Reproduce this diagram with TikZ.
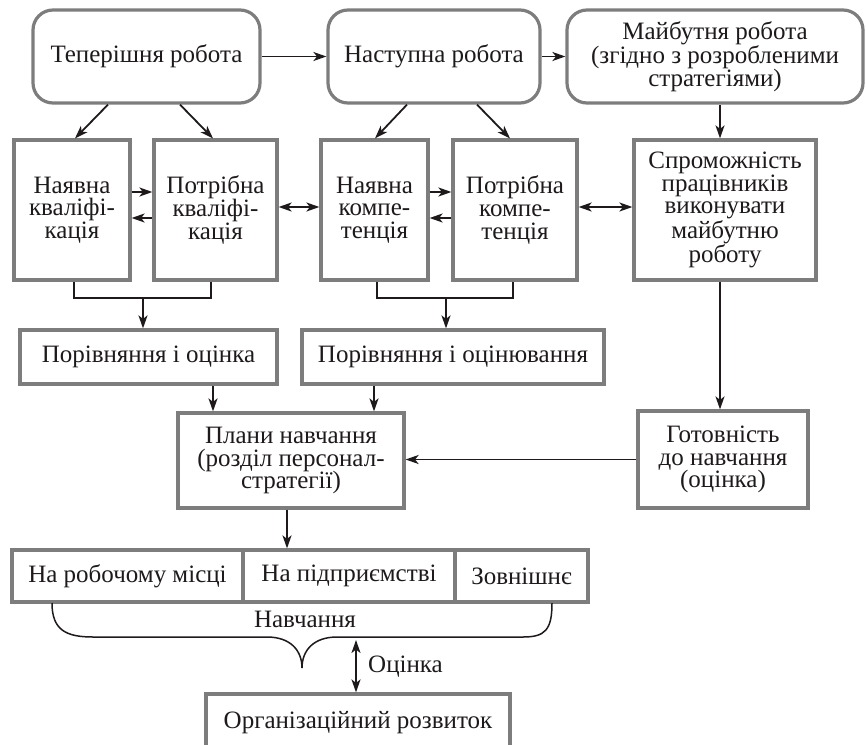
\documentclass[tikz,border=0pt]{standalone}
\usepackage{fontspec}
\setmainfont{Liberation Serif}
\usetikzlibrary{arrows.meta}
\definecolor{boxgray}{RGB}{125,125,125}
\definecolor{ink}{RGB}{30,26,27}
\newcommand{\fsz}{\fontsize{25pt}{22.7pt}\selectfont}
\tikzset{
  box/.style={draw=boxgray, line width=3.2pt, fill=white, inner sep=0pt, align=center, font=\fsz, text=ink},
  rbox/.style={box, rounded corners=20pt},
  tip/.tip={Stealth[length=13pt,width=9pt,inset=3.5pt]},
  ln/.style={draw=ink, line width=1.8pt},
  arr/.style={ln, -tip},
  darr/.style={ln, tip-tip},
  lbl/.style={font=\fsz, text=ink, inner sep=0pt}
}
\begin{document}
\begin{tikzpicture}[x=1pt,y=-1pt]
\useasboundingbox (0,0) rectangle (866,744);
\clip (0,0) rectangle (866,744);
% top row
\node[rbox, minimum width=227pt, minimum height=93pt] (tw) at (146.5,56.5) {Теперішня робота};
\node[rbox, minimum width=212pt, minimum height=93pt] (nr) at (434,56.5) {Наступна робота};
\node[rbox, minimum width=296pt, minimum height=93pt] (mr) at (715,56.5) {Майбутня робота\\(згідно з розробленими\\стратегіями)};
% second row
\node[box, minimum width=116pt, minimum height=140pt] (nk) at (72,210) {Наявна\\кваліфі-\\кація};
\node[box, minimum width=123pt, minimum height=140pt] (pk) at (215.5,210) {Потрібна\\кваліфі-\\кація};
\node[box, minimum width=107pt, minimum height=140pt] (nc) at (374.5,210) {Наявна\\компе-\\тенція};
\node[box, minimum width=124pt, minimum height=140pt] (pc) at (515,210) {Потрібна\\компе-\\тенція};
\node[box, minimum width=182pt, minimum height=140pt] (sp) at (725,210) {Спроможність\\працівників\\виконувати\\майбутню\\роботу};
% comparison row
\node[box, minimum width=257pt, minimum height=54pt] (po1) at (148.5,357) {Порівняння і оцінка};
\node[box, minimum width=302pt, minimum height=54pt] (po2) at (453,357) {Порівняння і оцінювання};
% plans and readiness
\node[box, minimum width=226pt, minimum height=95pt] (plan) at (291,460.5) {Плани навчання\\(розділ персонал-\\стратегії)};
\node[box, minimum width=170pt, minimum height=97pt] (got) at (723,459.5) {Готовність\\до навчання\\(оцінка)};
% training row
\node[box, minimum width=231pt, minimum height=52pt] (b1) at (127.5,576) {На робочому місці};
\node[box, minimum width=212pt, minimum height=52pt] (b2) at (349,576) {На підприємстві};
\node[box, minimum width=133pt, minimum height=52pt] (b3) at (521.5,576) {Зовнішнє};
% organisational development
\node[box, minimum width=304pt, minimum height=58pt] (org) at (358,723) {Організаційний розвиток};

% top row connectors
\draw[arr] (tw.east) -- (nr.west);
\draw[arr] (nr.east) -- (mr.west);
\draw[arr] ([xshift=-38.5pt]tw.south) -- ([xshift=3pt]nk.north);
\draw[arr] ([xshift=33.5pt]tw.south) -- ([xshift=-2.5pt]pk.north);
\draw[arr] ([xshift=-27pt]nr.south) -- ([xshift=0.5pt]nc.north);
\draw[arr] ([xshift=43pt]nr.south) -- ([xshift=-5pt]pc.north);
\draw[arr] ([xshift=5pt]mr.south) -- ([xshift=-5pt]sp.north);
% second row horizontal
\draw[arr] ([yshift=18pt]nk.east) -- ([yshift=18pt]pk.west);
\draw[arr] ([yshift=-8pt]pk.west) -- ([yshift=-8pt]nk.east);
\draw[arr] ([yshift=18pt]nc.east) -- ([yshift=18pt]pc.west);
\draw[arr] ([yshift=-8pt]pc.west) -- ([yshift=-8pt]nc.east);
\draw[darr] ([yshift=3pt]pk.east) -- ([yshift=3pt]nc.west);
\draw[darr] ([yshift=3pt]pc.east) -- ([yshift=3pt]sp.west);
% brackets
\coordinate (j1) at (143,298);
\coordinate (j2) at (446,298);
\draw[ln] ([xshift=2pt]nk.south) |- (j1) -| ([xshift=-4.5pt]pk.south);
\draw[arr] (j1) -- (j1 |- po1.north);
\draw[ln] ([xshift=2.5pt]nc.south) |- (j2) -| ([xshift=-2pt]pc.south);
\draw[arr] (j2) -- (j2 |- po2.north);
% to plans
\draw[arr] ([xshift=64.5pt]po1.south) -- ([xshift=64.5pt]po1.south |- plan.north);
\draw[arr] ([xshift=-79pt]po2.south) -- ([xshift=-79pt]po2.south |- plan.north);
\draw[arr] ([xshift=-5pt]sp.south) -- ([xshift=-5pt]sp.south |- got.north);
\draw[arr] (got.west) -- (got.west -| plan.east);
\draw[arr] ([xshift=-4pt]plan.south) -- ([xshift=-4pt]plan.south |- b2.north);
% brace
\draw[ln, line width=1.5pt] (52,603) .. controls (52,630) and (66,637) .. (93,637)
  -- (267,637) .. controls (290,637) and (302,650) .. (302,668)
  .. controls (302,650) and (314,637) .. (337,637)
  -- (523,637) .. controls (545,637) and (552,630) .. (552,603);
\node[lbl] (nav) at (305,619) {Навчання};
% evaluation
\coordinate (ev) at (356,640);
\draw[darr] (ev) -- (ev |- org.north);
\node[lbl, anchor=west] (oc) at (368,667) {Оцінка};
\end{tikzpicture}
\end{document}
